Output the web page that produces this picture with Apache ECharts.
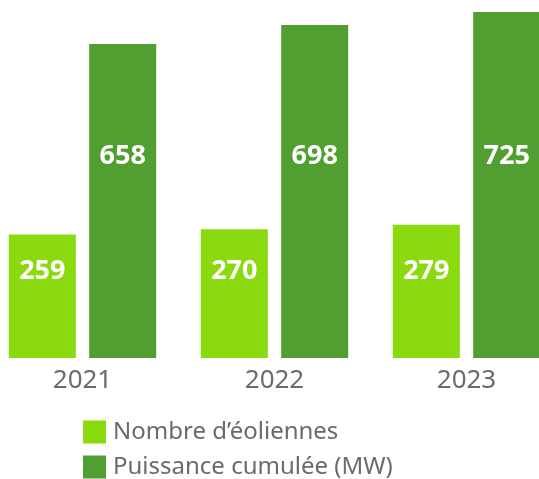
<!DOCTYPE html>
<html>
<head>
<meta charset="utf-8">
<script src="https://cdn.jsdelivr.net/npm/echarts@6/dist/echarts.min.js"></script>
<style>
  html, body { margin: 0; padding: 0; background: #fff; }
  #chart { width: 539px; height: 479px; }
</style>
</head>
<body>
<div id="chart"></div>
<script>
// Data
var years = ['2021', '2022', '2023'];
var turbines = [259, 270, 279];
var capacity = [658, 698, 725];
var seriesNames = ['Nombre d\u2019éoliennes', 'Puissance cumulée (MW)'];

var lightGreen = '#8bd90f';
var darkGreen = '#519f31';
var grey = '#6b6b6b';
var font = 'Noto Sans';

var chart = echarts.init(document.getElementById('chart'));

function labelStyle() {
  return {
    show: true,
    color: '#fff',
    fontFamily: font,
    fontWeight: 'bold',
    fontSize: 27,
    align: 'center',
    verticalAlign: 'middle',
    position: 'inside'
  };
}

var option = {
  animation: false,
  backgroundColor: '#fff',
  grid: {
    left: -13.5, width: 576, top: 12, bottom: 121,
    containLabel: false, outerBoundsMode: 'none'
  },
  xAxis: {
    type: 'category',
    data: years,
    axisLine: { show: false },
    axisTick: { show: false },
    axisLabel: { color: grey, fontFamily: font, fontSize: 26, margin: 10 }
  },
  yAxis: {
    type: 'value',
    min: 0,
    max: 725,
    show: false,
    splitLine: { show: false }
  },
  legend: {
    orient: 'vertical',
    left: 83,
    top: 420,
    padding: 0,
    itemWidth: 23,
    itemHeight: 23,
    itemGap: 11,
    icon: 'rect',
    textStyle: { color: grey, fontFamily: font, fontSize: 24, lineHeight: 23, padding: [0, 0, 0, 2] },
    data: seriesNames
  },
  series: [
    {
      name: seriesNames[0],
      type: 'bar',
      barWidth: 67,
      barGap: '20%',
      itemStyle: { color: lightGreen },
      label: labelStyle(),
      data: turbines
    },
    {
      name: seriesNames[1],
      type: 'bar',
      barWidth: 67,
      itemStyle: { color: darkGreen },
      label: labelStyle(),
      data: capacity
    }
  ]
};

chart.setOption(option);

// Labels sit on one common line per series, not relative to each bar top
var labelLines = [271, 156];
var lists = [turbines, capacity];
var newSeries = lists.map(function (list, si) {
  return {
    data: list.map(function (v, i) {
      var top = chart.convertToPixel({ seriesIndex: si }, [i, v])[1];
      return {
        value: v,
        label: { position: ['50%', labelLines[si] - top] }
      };
    })
  };
});
chart.setOption({ series: newSeries });
</script>
</body>
</html>
